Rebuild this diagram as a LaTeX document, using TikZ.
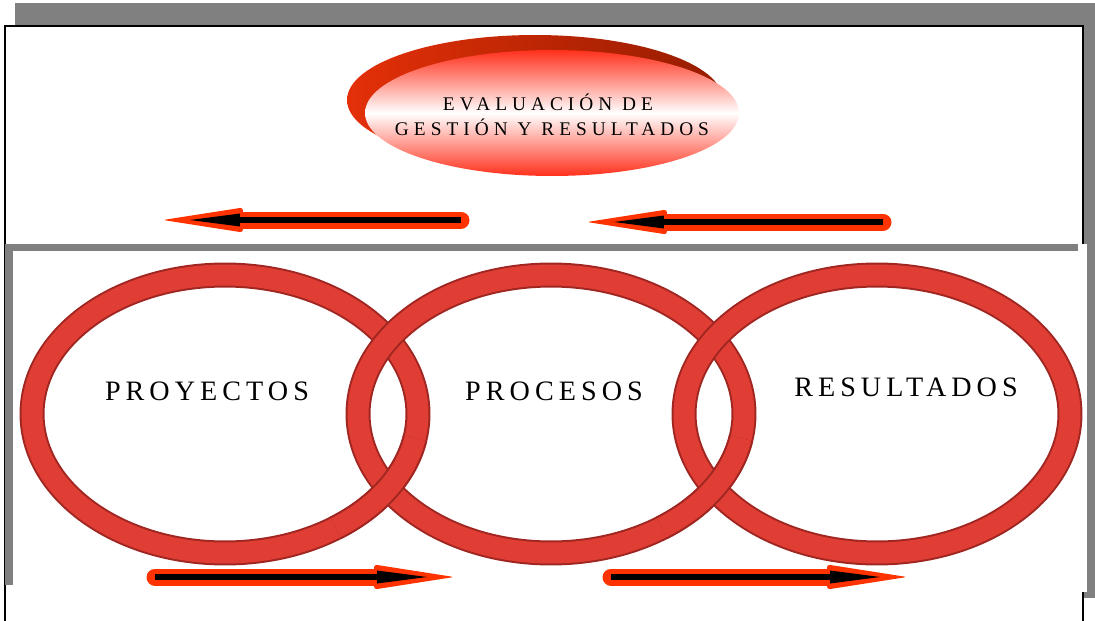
\documentclass[tikz,border=0pt]{standalone}
\usepackage{fontspec}
\setmainfont{Liberation Serif}
\newfontfamily\ringfont[LetterSpace=18]{Liberation Serif}
\newfontfamily\evalfont[LetterSpace=26]{Liberation Serif}
\usetikzlibrary{arrows.meta}
\usetikzlibrary{calc}

\definecolor{ringred}{RGB}{224,62,52}
\definecolor{ringdark}{RGB}{160,38,34}
\definecolor{arrowred}{RGB}{255,51,0}
\definecolor{evred}{RGB}{255,48,28}
\definecolor{evbackA}{RGB}{228,48,8}
\definecolor{evbackB}{RGB}{150,28,0}
\definecolor{shadowgray}{RGB}{128,128,128}

% one red arrow: #1 tail, #2 tip
\newcommand{\flecha}[2]{%
  \coordinate (rb) at ($(#2)!1.6cm!(#1)$);
  \coordinate (bb) at ($(#2)!1.54cm!(#1)$);
  \coordinate (bt) at ($(#2)!0.54cm!(#1)$);
  \draw[redcase] (#1) -- (rb);
  \fill[arrowred,rounded corners=0.06cm] ($(rb)!0.25cm!90:(#2)$) -- (#2) -- ($(rb)!0.25cm!-90:(#2)$) -- cycle;
  \draw[blackcore] (#1) -- (bb);
  \fill ($(bb)!0.13cm!90:(#2)$) -- (bt) -- ($(bb)!0.13cm!-90:(#2)$) -- cycle;}

\begin{document}
\begin{tikzpicture}[x=0.02cm,y=0.02cm,
  ringborder/.style={draw=ringdark,line width=0.5cm},
  ringfill/.style={draw=ringred,line width=0.42cm},
  redcase/.style={arrowred,line width=0.34cm,line cap=round},
  blackcore/.style={black,line width=0.12cm},
  ringlabel/.style={font={\ringfont\fontsize{16}{19}\selectfont},anchor=base,inner sep=0pt},
  evallabel/.style={font={\evalfont\fontsize{11}{13}\selectfont},anchor=base,inner sep=0pt}]
  \useasboundingbox (0,0) rectangle (1095,620);

  % frame with its shadow
  \fill[shadowgray] (15,22) rectangle (1095,617);
  \draw[fill=white,line width=0.04cm] (5,-10) rectangle (1083,594);

  % top part: evaluation
  \coordinate (evback) at (535,520);
  \coordinate (evfront) at (552,507);
  \shade[left color=evbackA,right color=evbackB] (evback) ellipse [x radius=3.76cm,y radius=1.3cm];
  \shade[top color=evred,bottom color=evred,middle color=white] (evfront) ellipse [x radius=3.74cm,y radius=1.26cm];
  \node[evallabel] (evl1) at (548,510) {EVALUACIÓN DE};
  \node[evallabel] (evl2) at (552,485) {GESTIÓN Y RESULTADOS};

  \coordinate (a1s) at (461,400); \coordinate (a1e) at (163,400);
  \coordinate (a2s) at (883,398); \coordinate (a2e) at (587,398);
  \flecha{a1s}{a1e}
  \flecha{a2s}{a2e}

  % lower part: the three rings
  \fill[white] (8,28) rectangle (1087,376);
  \fill[shadowgray] (5,376) rectangle (1078,369);
  \fill[shadowgray] (5,376) rectangle (13,35);

  \coordinate (proy) at (225,206);
  \coordinate (proc) at (551,206);
  \coordinate (resu) at (877,206);
  \foreach \c in {proy,proc,resu} {
    \draw[ringborder] (\c) ellipse [x radius=3.86cm,y radius=2.78cm];
    \draw[ringfill] (\c) ellipse [x radius=3.86cm,y radius=2.78cm];
  }
  % lower crossings: left ring on top
  \foreach \c in {proy,proc} {
    \draw[ringborder] ($(\c)+(-55:3.86cm and 2.78cm)$) arc [start angle=-55,end angle=-10,x radius=3.86cm,y radius=2.78cm];
    \draw[ringfill] ($(\c)+(-55:3.86cm and 2.78cm)$) arc [start angle=-55,end angle=-10,x radius=3.86cm,y radius=2.78cm];
  }

  \node[ringlabel] (tproy) at (207,220) {PROYECTOS};
  \node[ringlabel] (tproc) at (554,220) {PROCESOS};
  \node[ringlabel] (tresu) at (906,224) {RESULTADOS};

  \coordinate (a3s) at (155,43); \coordinate (a3e) at (454,43);
  \coordinate (a4s) at (611,43); \coordinate (a4e) at (907,43);
  \flecha{a3s}{a3e}
  \flecha{a4s}{a4e}
\end{tikzpicture}
\end{document}
